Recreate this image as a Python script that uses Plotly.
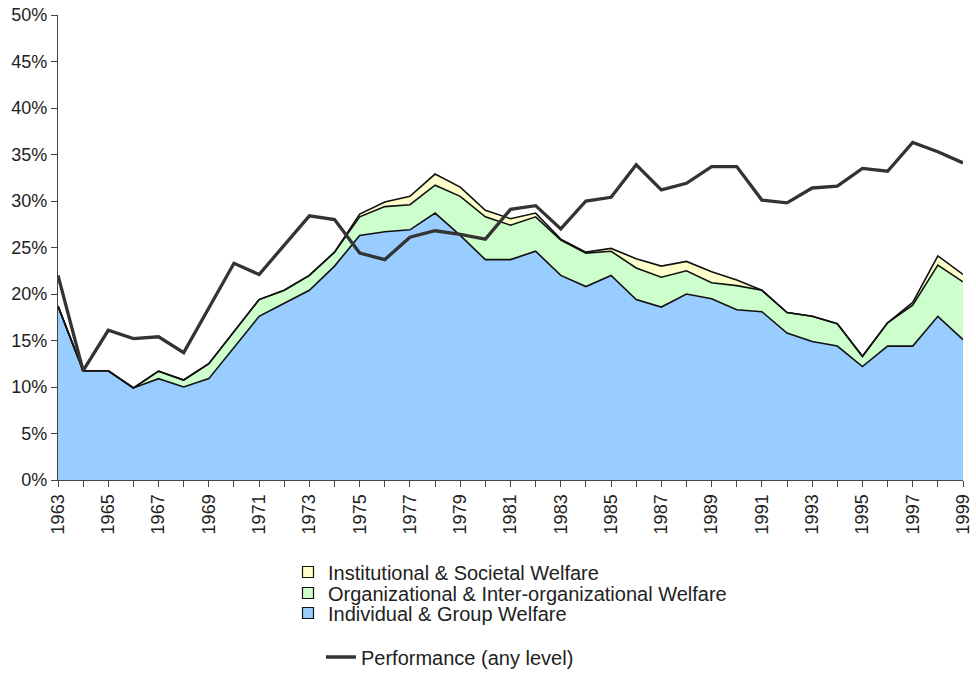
import plotly.graph_objects as go

years = list(range(1963, 2000))

individual = [18.7, 11.75, 11.75, 9.9, 10.9, 10.0, 10.9, 14.2, 17.6, 19.0, 20.4, 23.0,
              26.3, 26.7, 26.9, 28.7, 26.3, 23.7, 23.7, 24.6, 22.0, 20.8, 22.0, 19.4,
              18.6, 20.0, 19.5, 18.3, 18.1, 15.8, 14.9, 14.4, 12.2, 14.4, 14.4, 17.6, 15.1]

organizational = [0, 0, 0, 0, 0.8, 0.75, 1.6, 1.7, 1.8, 1.4, 1.6, 1.5,
                  2.0, 2.7, 2.7, 3.0, 4.2, 4.6, 3.7, 3.7, 3.8, 3.6, 2.6, 3.4,
                  3.2, 2.5, 1.7, 2.6, 2.3, 2.2, 2.7, 2.4, 1.1, 2.5, 4.4, 5.5, 6.2]

institutional = [0, 0, 0, 0, 0, 0, 0, 0, 0, 0, 0, 0,
                 0.3, 0.5, 0.9, 1.2, 1.0, 0.7, 0.7, 0.4, 0.1, 0.1, 0.3, 1.0,
                 1.2, 1.0, 1.2, 0.6, 0, 0, 0, 0, 0, 0, 0.3, 1.0, 0.8]

performance = [22.0, 11.75, 16.1, 15.2, 15.4, 13.7, 18.5, 23.3, 22.1, 25.3, 28.4, 28.0,
               24.4, 23.7, 26.1, 26.8, 26.4, 25.9, 29.1, 29.5, 27.0, 30.0, 30.4, 33.9,
               31.2, 31.9, 33.7, 33.7, 30.1, 29.8, 31.4, 31.6, 33.5, 33.2, 36.3, 35.3, 34.1]

y_ticks = [0, 5, 10, 15, 20, 25, 30, 35, 40, 45, 50]
y_labels = [f"{v}%" for v in y_ticks]
x_labels = [str(y) if (y - 1963) % 2 == 0 else "" for y in years]

FONT = "Liberation Sans, Arial, sans-serif"
TXT = "#222222"

series = [
    ("Individual & Group Welfare", individual, "#99CCFF", "legend3"),
    ("Organizational & Inter-organizational Welfare", organizational, "#CCFFCC", "legend2"),
    ("Institutional & Societal Welfare", institutional, "#FFFFCC", "legend"),
]

fig = go.Figure()

for name, vals, col, lg in series:
    fig.add_trace(go.Scatter(
        x=years, y=vals, name=name, stackgroup="one", mode="lines",
        line=dict(color="#111111", width=1.6), fillcolor=col, showlegend=False,
    ))

fig.add_trace(go.Scatter(
    x=years, y=performance, name="Performance (any level)",
    mode="lines", line=dict(color="#333333", width=3.3),
    legend="legend4",
))

# legend swatches (square keys as in the original)
for name, vals, col, lg in series:
    fig.add_trace(go.Scatter(
        x=[None], y=[None], name=name, mode="markers",
        marker=dict(symbol="square", size=11, color=col, line=dict(color="#111111", width=1.2)),
        legend=lg,
    ))

def leg(ypix, xpix):
    return dict(
        x=xpix / 976, y=1 - ypix / 673, xref="container", yref="container",
        xanchor="left", yanchor="middle",
        font=dict(family=FONT, size=20, color=TXT),
        bgcolor="rgba(0,0,0,0)", borderwidth=0,
    )

fig.update_layout(
    width=976, height=673,
    paper_bgcolor="white", plot_bgcolor="white",
    margin=dict(l=58, r=13, t=15, b=193, autoexpand=False),
    font=dict(family=FONT, size=18, color=TXT),
    showlegend=True,
    legend=leg(572, 288),
    legend2=leg(593, 288),
    legend3=leg(613, 288),
    legend4=leg(657, 321),
)

fig.update_xaxes(
    range=[1963, 1999], tickmode="array", tickvals=years, ticktext=x_labels,
    tickangle=-90, ticks="outside", ticklen=6, tickcolor="#444444", tickwidth=1,
    showline=True, linecolor="#444444", linewidth=1.3,
    showgrid=False, zeroline=False, automargin=False,
    tickfont=dict(family=FONT, size=18, color=TXT),
)
fig.update_yaxes(
    range=[0, 50], tickmode="array", tickvals=y_ticks, ticktext=y_labels,
    ticks="outside", ticklen=6, tickcolor="#444444", tickwidth=1,
    showline=True, linecolor="#444444", linewidth=1.3,
    showgrid=False, zeroline=False, automargin=False,
    tickfont=dict(family=FONT, size=18, color=TXT),
)

fig.write_html("out.html", config={"displayModeBar": False},
               post_script="document.body.style.margin='0px';")
